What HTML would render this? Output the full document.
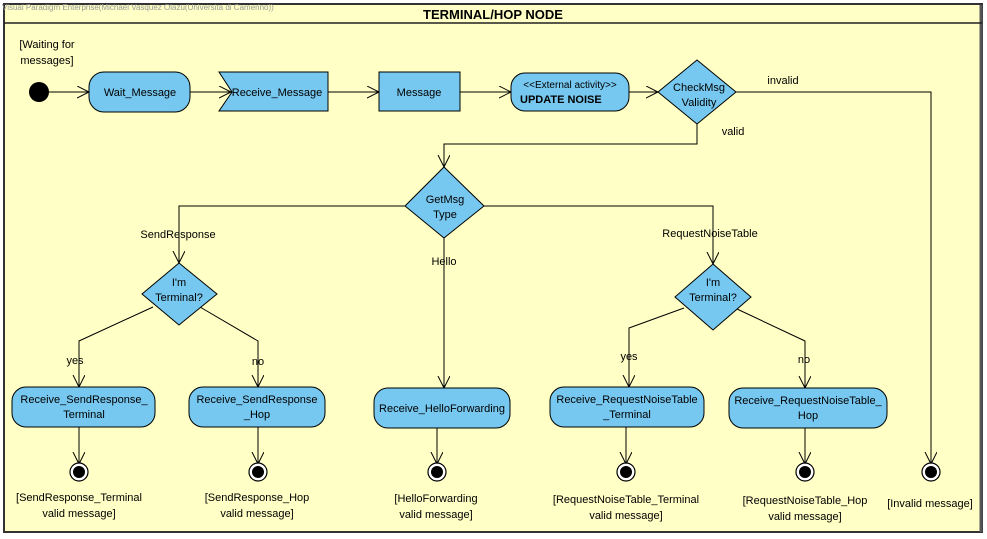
<!DOCTYPE html>
<html><head><meta charset="utf-8"><style>
body{margin:0;background:#fff;}
svg{display:block;font-family:"Liberation Sans",sans-serif;}
</style></head><body>
<svg width="987" height="539" viewBox="0 0 987 539" xmlns="http://www.w3.org/2000/svg">
<defs>
<marker id="a" markerWidth="14" markerHeight="14" refX="12" refY="6" orient="auto" markerUnits="userSpaceOnUse">
<path d="M0,0 L12,6 L0,12" fill="none" stroke="#000" stroke-width="1"/>
</marker>
</defs>
<rect x="4" y="4" width="978" height="528" fill="#ffffc6" stroke="#333" stroke-width="2"/>
<line x1="981" y1="5" x2="981" y2="532" stroke="#555" stroke-width="3"/>
<line x1="4" y1="23" x2="982" y2="23" stroke="#222" stroke-width="1.5"/>
<text x="2" y="10" font-size="8" fill="#999">Visual Paradigm Enterprise(Michael Vasquez Olazu(Universita di Camerino))</text>
<text x="493" y="19" font-size="13" font-weight="bold" text-anchor="middle">TERMINAL/HOP NODE</text>

<g font-size="11" fill="#000">
<text x="47" y="48" text-anchor="middle">[Waiting for</text>
<text x="47" y="64" text-anchor="middle">messages]</text>
</g>
<circle cx="39" cy="92" r="10" fill="#000"/>

<g stroke="#000" stroke-width="1" fill="none">
<line x1="49" y1="92" x2="89" y2="92" marker-end="url(#a)"/>
<line x1="190" y1="92" x2="231" y2="92" marker-end="url(#a)"/>
<line x1="328" y1="92" x2="379" y2="92" marker-end="url(#a)"/>
<line x1="460" y1="92" x2="511" y2="92" marker-end="url(#a)"/>
<line x1="629" y1="92" x2="658" y2="92" marker-end="url(#a)"/>
<polyline points="736,92 931,92 931,464" marker-end="url(#a)"/>
<polyline points="697,124 697,144 444,144 444,167" marker-end="url(#a)"/>
<polyline points="405,206 179,206 179,263" marker-end="url(#a)"/>
<polyline points="484,206 713,206 713,264" marker-end="url(#a)"/>
<line x1="444" y1="238" x2="444" y2="388" marker-end="url(#a)"/>
<polyline points="153,307 79,341 79,387" marker-end="url(#a)"/>
<polyline points="200,307 258,341 258,387" marker-end="url(#a)"/>
<polyline points="684,308 629,328 629,387" marker-end="url(#a)"/>
<polyline points="737,309 805,341 805,388" marker-end="url(#a)"/>
<line x1="79" y1="427" x2="79" y2="464" marker-end="url(#a)"/>
<line x1="258" y1="427" x2="258" y2="464" marker-end="url(#a)"/>
<line x1="437" y1="428" x2="437" y2="464" marker-end="url(#a)"/>
<line x1="626" y1="427" x2="626" y2="464" marker-end="url(#a)"/>
<line x1="805" y1="428" x2="805" y2="464" marker-end="url(#a)"/>
</g>

<g fill="#77c8f0" stroke="#000" stroke-width="1">
<rect x="89" y="72" width="101" height="40" rx="15"/>
<polygon points="219,72 328,72 328,111 219,111 232,92"/>
<rect x="379" y="72" width="81" height="39"/>
<rect x="511" y="73" width="118" height="38" rx="14"/>
<polygon points="697,60 736,92 697,124 658,92"/>
<polygon points="444,167 484,206 444,238 405,206"/>
<polygon points="179,263 217,294 179,325 142,294"/>
<polygon points="713,264 751,297 713,330 675,297"/>
<rect x="12" y="387" width="143" height="40" rx="14"/>
<rect x="189" y="387" width="136" height="40" rx="14"/>
<rect x="374" y="388" width="136" height="40" rx="14"/>
<rect x="550" y="387" width="154" height="40" rx="14"/>
<rect x="729" y="388" width="158" height="40" rx="14"/>
</g>

<g font-size="11" fill="#000" text-anchor="middle">
<text x="140" y="96">Wait_Message</text>
<text x="277" y="96">Receive_Message</text>
<text x="419" y="96">Message</text>
<text x="570" y="88" font-size="10">&lt;&lt;External activity&gt;&gt;</text>
<text x="520" y="103" text-anchor="start" font-weight="bold">UPDATE NOISE</text>
<text x="699" y="91">CheckMsg</text>
<text x="699" y="106">Validity</text>
<text x="783" y="84">invalid</text>
<text x="733" y="135">valid</text>
<text x="445" y="203">GetMsg</text>
<text x="445" y="218">Type</text>
<text x="178" y="238">SendResponse</text>
<text x="710" y="237">RequestNoiseTable</text>
<text x="444" y="265">Hello</text>
<text x="179" y="286">I'm</text>
<text x="179" y="301">Terminal?</text>
<text x="713" y="286">I'm</text>
<text x="713" y="301">Terminal?</text>
<text x="75" y="364">yes</text>
<text x="258" y="365">no</text>
<text x="629" y="360">yes</text>
<text x="804" y="363">no</text>
<text x="84" y="403">Receive_SendResponse_</text>
<text x="84" y="418">Terminal</text>
<text x="257" y="403">Receive_SendResponse</text>
<text x="257" y="418">_Hop</text>
<text x="442" y="412">Receive_HelloForwarding</text>
<text x="627" y="403">Receive_RequestNoiseTable</text>
<text x="627" y="418">_Terminal</text>
<text x="808" y="404">Receive_RequestNoiseTable_</text>
<text x="808" y="419">Hop</text>
<text x="79" y="501">[SendResponse_Terminal</text>
<text x="79" y="517">valid message]</text>
<text x="257" y="501">[SendResponse_Hop</text>
<text x="257" y="517">valid message]</text>
<text x="436" y="502">[HelloForwarding</text>
<text x="436" y="518">valid message]</text>
<text x="626" y="503">[RequestNoiseTable_Terminal</text>
<text x="626" y="519">valid message]</text>
<text x="805" y="504">[RequestNoiseTable_Hop</text>
<text x="805" y="520">valid message]</text>
<text x="930" y="507">[Invalid message]</text>
</g>

<g>
<g fill="#fff" stroke="#000" stroke-width="1.2">
<circle cx="79" cy="472" r="9"/><circle cx="258" cy="472" r="9"/><circle cx="437" cy="472" r="9"/>
<circle cx="626" cy="472" r="9"/><circle cx="805" cy="472" r="9"/><circle cx="931" cy="472" r="9"/>
</g>
<g fill="#000">
<circle cx="79" cy="472" r="6"/><circle cx="258" cy="472" r="6"/><circle cx="437" cy="472" r="6"/>
<circle cx="626" cy="472" r="6"/><circle cx="805" cy="472" r="6"/><circle cx="931" cy="472" r="6"/>
</g>
</g>
</svg>
</body></html>
